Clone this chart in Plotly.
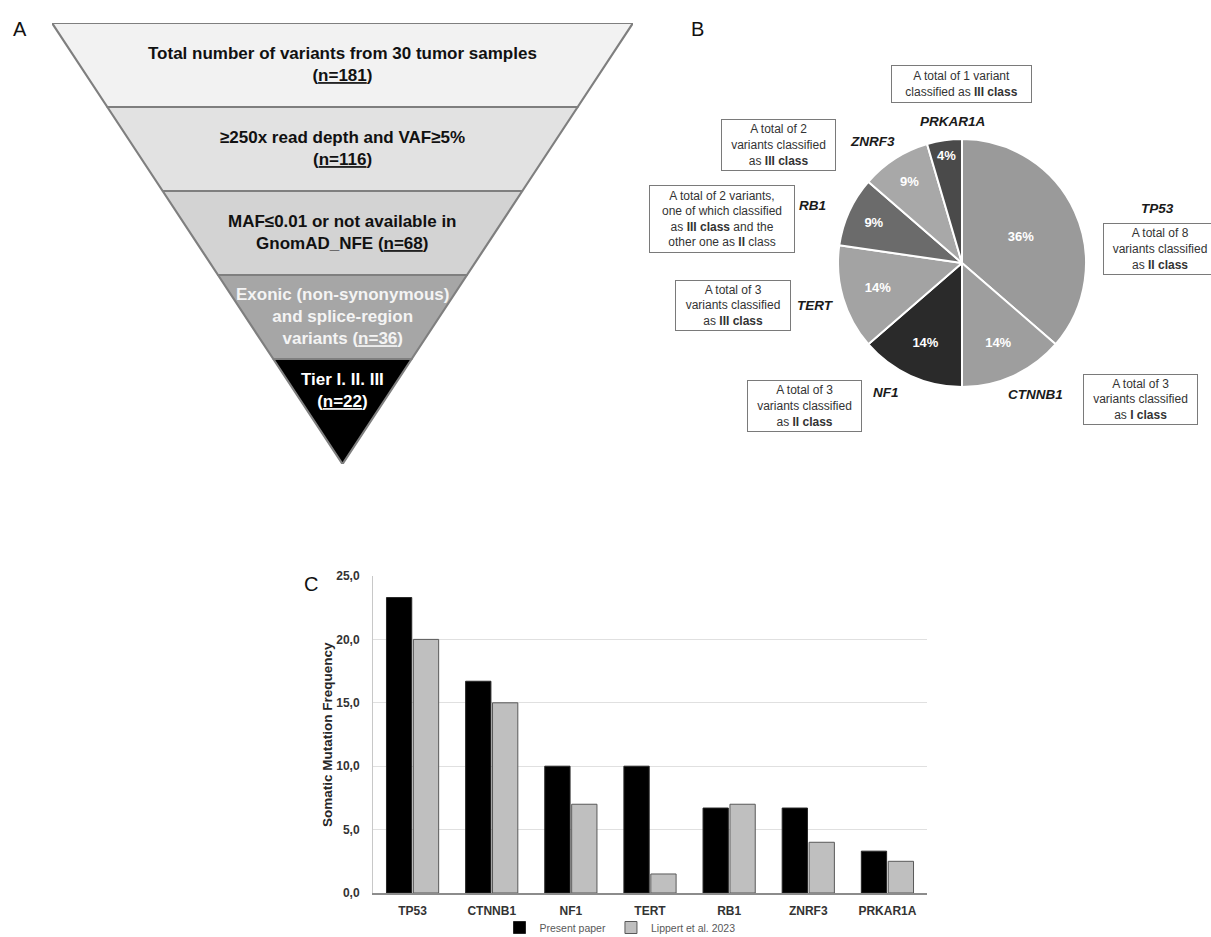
import plotly.graph_objects as go

W, H = 1211, 937
FONT = "Arial, Liberation Sans, Helvetica, sans-serif"

# ---------------- data ----------------
# Panel A: filtering funnel
funnel_lines = [
    ["Total number of variants from 30 tumor samples", "(<u>n=181</u>)"],
    ["≥250x read depth and VAF≥5%", "(<u>n=116</u>)"],
    ["MAF≤0.01 or not available in", "GnomAD_NFE (<u>n=68</u>)"],
    ["Exonic (non-synonymous)", "and splice-region", "variants (<u>n=36</u>)"],
    ["Tier I. II. III", "(<u>n=22</u>)"],
]
funnel_colors = ["#f2f2f2", "#e2e2e2", "#d3d3d3", "#a6a6a6", "#000000"]
funnel_text_colors = ["#111111", "#111111", "#111111", "#f4f4f4", "#ffffff"]

# Panel B: pie
genes = ["TP53", "CTNNB1", "NF1", "TERT", "RB1", "ZNRF3", "PRKAR1A"]
variant_counts = [8, 3, 3, 3, 2, 2, 1]
pct_labels = ["36%", "14%", "14%", "14%", "9%", "9%", "4%"]
pie_colors = ["#9a9a9a", "#9e9e9e", "#2a2a2a", "#a3a3a3", "#6b6b6b", "#a8a8a8", "#4a4a4a"]
pie_notes = [
    "A total of 8<br>variants classified<br>as <b>II class</b>",
    "A total of 3<br>variants classified<br>as <b>I class</b>",
    "A total of 3<br>variants classified<br>as <b>II class</b>",
    "A total of 3<br>variants classified<br>as <b>III class</b>",
    "A total of 2 variants,<br>one of which classified<br>as <b>III class</b> and the<br>other one as <b>II</b> class",
    "A total of 2<br>variants classified<br>as <b>III class</b>",
    "A total of 1 variant<br>classified as <b>III class</b>",
]

# Panel C: bars
bar_genes = ["TP53", "CTNNB1", "NF1", "TERT", "RB1", "ZNRF3", "PRKAR1A"]
present_paper = [23.3, 16.7, 10.0, 10.0, 6.7, 6.7, 3.3]
lippert_2023 = [20.0, 15.0, 7.0, 1.5, 7.0, 4.0, 2.5]


def fx(p):
    return p / W


def fy(p):
    return 1 - p / H


fig = go.Figure()

# ---------------- Panel C: bar chart ----------------
fig.add_trace(go.Bar(
    x=bar_genes, y=present_paper, name="Present paper",
    marker=dict(color="#000000", line=dict(color="#262626", width=1)),
    xaxis="x", yaxis="y", showlegend=True,
))
fig.add_trace(go.Bar(
    x=bar_genes, y=lippert_2023, name="Lippert et al. 2023",
    marker=dict(color="#bfbfbf", line=dict(color="#595959", width=1)),
    xaxis="x", yaxis="y", showlegend=True,
))

# ---------------- Panel A: funnel (polygons on hidden axes) ----------------
TIP = 1.25
n_bands = len(funnel_lines)
depths = [float(i) for i in range(n_bands)] + [n_bands - 1 + TIP]
D = depths[-1]


def half(d):
    return 1 - d / D


annotations = []
for i in range(n_bands):
    d0, d1 = depths[i], depths[i + 1]
    h0, h1 = half(d0), half(d1)
    fig.add_trace(go.Scatter(
        x=[-h0, h0, h1, -h1, -h0], y=[d0, d0, d1, d1, d0],
        mode="lines", fill="toself", fillcolor=funnel_colors[i],
        line=dict(color="#7f7f7f", width=2.2),
        xaxis="x3", yaxis="y3", showlegend=False, hoverinfo="skip",
    ))
    yc = (d0 + d1) / 2 if i < n_bands - 1 else d0 + 0.37
    annotations.append(dict(
        x=0, y=yc, xref="x3", yref="y3", showarrow=False,
        xanchor="center", yanchor="middle",
        text="<b>" + "<br>".join(funnel_lines[i]) + "</b>",
        font=dict(family=FONT, size=17, color=funnel_text_colors[i]),
        align="center",
    ))

# ---------------- Panel B: pie ----------------
cx, cy, r = 962, 263, 124
fig.add_trace(go.Pie(
    labels=genes, values=variant_counts, text=pct_labels,
    texttemplate="<b>%{text}</b>", textposition="inside",
    insidetextorientation="horizontal",
    textfont=dict(family=FONT, size=13, color="#ffffff"),
    marker=dict(colors=pie_colors, line=dict(color="#ffffff", width=2)),
    sort=False, direction="clockwise", rotation=0,
    domain=dict(x=[fx(cx - r), fx(cx + r)], y=[fy(cy + r), fy(cy - r)]),
    showlegend=False, hoverinfo="label+value",
))

# gene name labels and note boxes (pixel positions / box sizes)
gene_label_pos = {
    "TP53": (1157, 208), "CTNNB1": (1035, 394), "NF1": (886, 392),
    "TERT": (815, 305), "RB1": (812, 205), "ZNRF3": (872, 142),
    "PRKAR1A": (952, 121),
}
note_box = {  # center x, center y, outer width, outer height
    "TP53": (1160, 249, 114, 52), "CTNNB1": (1140, 400, 115, 51),
    "NF1": (804, 406, 115, 52), "TERT": (733, 306, 116, 51),
    "RB1": (722, 219, 146, 68), "ZNRF3": (778, 145, 115, 52),
    "PRKAR1A": (961, 84, 141, 38),
}
PAD = 2
for g, note in zip(genes, pie_notes):
    gx, gy = gene_label_pos[g]
    annotations.append(dict(
        x=fx(gx), y=fy(gy), xref="paper", yref="paper", showarrow=False,
        xanchor="center", yanchor="middle",
        text="<b><i>" + g + "</i></b>",
        font=dict(family=FONT, size=13.5, color="#1a1a1a"),
    ))
    nx, ny, bw, bh = note_box[g]
    annotations.append(dict(
        x=fx(nx), y=fy(ny), xref="paper", yref="paper", showarrow=False,
        xanchor="center", yanchor="middle",
        text=note, align="center", valign="middle",
        width=bw - 2 * (PAD + 1), height=bh - 2 * (PAD + 1),
        font=dict(family=FONT, size=12, color="#333333"),
        bordercolor="#7a7a7a", borderwidth=1, borderpad=PAD, bgcolor="#ffffff",
    ))

# panel letters
for letter, (lx, ly) in {"A": (20, 29), "B": (697, 29), "C": (311, 584)}.items():
    annotations.append(dict(
        x=fx(lx), y=fy(ly), xref="paper", yref="paper", showarrow=False,
        xanchor="center", yanchor="middle",
        text=letter, font=dict(family=FONT, size=20, color="#111111"),
    ))

# y-axis title for panel C
annotations.append(dict(
    x=fx(327), y=fy(735), xref="paper", yref="paper", showarrow=False,
    xanchor="center", yanchor="middle",
    text="<b>Somatic Mutation Frequency</b>", textangle=-90,
    font=dict(family=FONT, size=13.5, color="#262626"),
))

fig.update_layout(
    width=W, height=H,
    margin=dict(l=0, r=0, t=0, b=0, autoexpand=False),
    paper_bgcolor="#ffffff", plot_bgcolor="#ffffff",
    separators=", ",
    barmode="group", bargap=0.32, bargroupgap=0.06,
    font=dict(family=FONT),
    xaxis=dict(
        domain=[fx(373), fx(927)], anchor="y",
        showline=True, linecolor="#8c8c8c", linewidth=1.5,
        showgrid=False, ticks="", fixedrange=True, ticklabelstandoff=6,
        tickfont=dict(family=FONT, size=12, color="#333333"),
        tickprefix="<b>", ticksuffix="</b>",
    ),
    yaxis=dict(
        domain=[fy(893), fy(576)], anchor="x",
        range=[0, 25], dtick=5, tickformat=".1f",
        showline=True, linecolor="#c8c8c8", linewidth=1,
        showgrid=True, gridcolor="#e0e0e0", gridwidth=1,
        zeroline=False, ticks="", ticklabelstandoff=10,
        tickfont=dict(family=FONT, size=12, color="#333333"),
        tickprefix="<b>", ticksuffix="</b>",
    ),
    xaxis3=dict(domain=[fx(52), fx(633)], range=[-1, 1], visible=False,
                anchor="y3", fixedrange=True),
    yaxis3=dict(domain=[fy(464), fy(23)], range=[D, 0], visible=False,
                anchor="x3", fixedrange=True),
    legend=dict(
        orientation="h", x=fx(620), xanchor="center", y=fy(942), yanchor="bottom",
        font=dict(family=FONT, size=10.5, color="#595959"),
        itemwidth=30, bgcolor="rgba(0,0,0,0)", traceorder="normal",
    ),
    annotations=annotations,
)

fig.write_html(
    "out.html",
    config={"displayModeBar": False},
    post_script="document.body.style.margin='0';document.body.style.overflow='hidden';",
)
